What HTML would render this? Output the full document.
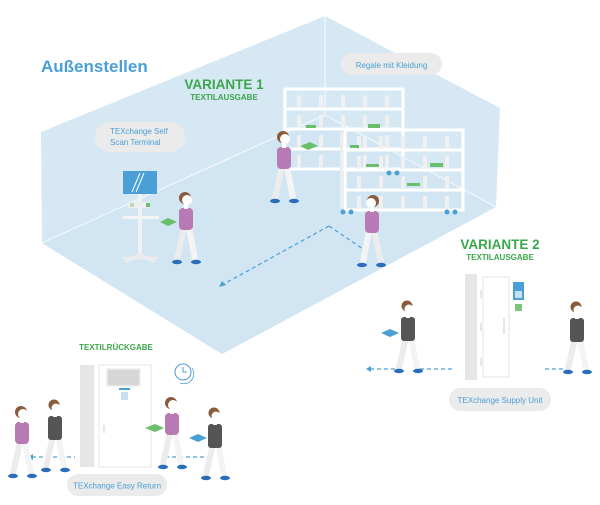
<!DOCTYPE html>
<html><head><meta charset="utf-8"><style>
html,body{margin:0;padding:0;background:#fff;width:600px;height:505px;overflow:hidden}
svg{display:block}
text{font-family:"Liberation Sans",sans-serif}
</style></head><body>
<svg width="600" height="505" viewBox="0 0 600 505" xmlns="http://www.w3.org/2000/svg">
<defs>
<g id="pw">
 <line x1="-2" y1="-34" x2="-9" y2="-3" stroke="#ececec" stroke-width="6" stroke-linecap="round"/>
 <line x1="3" y1="-34" x2="9" y2="-3" stroke="#f4f4f4" stroke-width="6" stroke-linecap="round"/>
 <ellipse cx="-9" cy="0" rx="5" ry="2.2" fill="#2a6db8"/>
 <ellipse cx="10" cy="0" rx="5" ry="2.2" fill="#2a6db8"/>
 <rect x="-7" y="-54" width="14" height="22" rx="4" fill="#b87ab4"/>
 <rect x="3" y="-52" width="4" height="14" rx="2" fill="#b87ab4"/>
 <circle cx="-1" cy="-64" r="6" fill="#8a5a3c"/>
 <circle cx="1" cy="-62" r="5" fill="#fff"/>
 <rect x="-2" y="-58" width="4" height="5" fill="#fff"/>
</g>
<g id="pm">
 <line x1="-2" y1="-34" x2="-9" y2="-3" stroke="#ececec" stroke-width="6" stroke-linecap="round"/>
 <line x1="3" y1="-34" x2="9" y2="-3" stroke="#f4f4f4" stroke-width="6" stroke-linecap="round"/>
 <ellipse cx="-9" cy="0" rx="5" ry="2.2" fill="#2a6db8"/>
 <ellipse cx="10" cy="0" rx="5" ry="2.2" fill="#2a6db8"/>
 <rect x="-7" y="-54" width="14" height="24" rx="3" fill="#555"/>
 <rect x="3" y="-52" width="4" height="14" rx="2" fill="#555"/>
 <circle cx="-1" cy="-65" r="5.5" fill="#8a5a3c"/>
 <circle cx="1" cy="-62" r="4.5" fill="#fff"/>
 <rect x="-2" y="-58" width="4" height="5" fill="#fff"/>
</g>
<g id="shelf">
 <rect x="0" y="0" width="118" height="80" fill="none" stroke="#fff" stroke-width="3"/>
 <line x1="0" y1="20" x2="118" y2="20" stroke="#fff" stroke-width="3"/>
 <line x1="0" y1="40" x2="118" y2="40" stroke="#fff" stroke-width="3"/>
 <line x1="0" y1="60" x2="118" y2="60" stroke="#fff" stroke-width="3"/>
 <g fill="#f0f0f0">
  <rect x="12" y="6" width="4" height="13"/><rect x="34" y="6" width="4" height="13"/><rect x="56" y="6" width="4" height="13"/><rect x="78" y="6" width="4" height="13"/><rect x="100" y="6" width="4" height="13"/>
  <rect x="12" y="26" width="4" height="13"/><rect x="34" y="26" width="4" height="13"/><rect x="56" y="26" width="4" height="13"/><rect x="78" y="26" width="4" height="13"/><rect x="100" y="26" width="4" height="13"/>
  <rect x="12" y="46" width="4" height="13"/><rect x="34" y="46" width="4" height="13"/><rect x="56" y="46" width="4" height="13"/><rect x="78" y="46" width="4" height="13"/><rect x="100" y="46" width="4" height="13"/>
  <rect x="12" y="66" width="4" height="13"/><rect x="34" y="66" width="4" height="13"/><rect x="56" y="66" width="4" height="13"/><rect x="78" y="66" width="4" height="13"/><rect x="100" y="66" width="4" height="13"/>
 </g>
</g>
</defs>

<!-- room hexagon -->
<polygon points="325,16 500,108 496,207 222,354 42,243 41,132" fill="#d6e8f4"/>
<polygon points="325,115 496,207 222,354 42,243" fill="#d2e5f2"/>
<g stroke="#f2f8fc" stroke-width="1.2" fill="none">
<line x1="325" y1="16" x2="325" y2="115"/>
<line x1="325" y1="115" x2="42" y2="243"/>
<line x1="325" y1="115" x2="496" y2="207"/>
</g>

<text x="41" y="72" font-size="17" fill="#4a9fd6" font-weight="bold">Außenstellen</text>
<text x="224" y="89" font-size="13.5" fill="#3aa84a" font-weight="bold" text-anchor="middle">VARIANTE 1</text>
<text x="224" y="100" font-size="8" fill="#3aa84a" font-weight="bold" text-anchor="middle">TEXTILAUSGABE</text>
<text x="500" y="249" font-size="13.5" fill="#3aa84a" font-weight="bold" text-anchor="middle">VARIANTE 2</text>
<text x="500" y="260" font-size="8" fill="#3aa84a" font-weight="bold" text-anchor="middle">TEXTILAUSGABE</text>
<text x="116" y="350" font-size="8" fill="#3aa84a" font-weight="bold" text-anchor="middle">TEXTILRÜCKGABE</text>

<!-- pills -->
<rect x="341" y="53" width="101" height="22" rx="11" fill="#ebebeb"/>
<text x="391.5" y="68" font-size="8" fill="#4a9fd6" text-anchor="middle">Regale mit Kleidung</text>
<rect x="95" y="122" width="90" height="30" rx="15" fill="#ebebeb"/>
<text x="110" y="134" font-size="8" fill="#4a9fd6">TEXchange Self</text>
<text x="110" y="145" font-size="8" fill="#4a9fd6">Scan Terminal</text>
<rect x="449" y="388" width="102" height="23" rx="11.5" fill="#ebebeb"/>
<text x="500" y="403" font-size="8" fill="#4a9fd6" text-anchor="middle">TEXchange Supply Unit</text>
<rect x="67" y="474" width="100" height="22" rx="11" fill="#ebebeb"/>
<text x="117" y="488.5" font-size="8" fill="#4a9fd6" text-anchor="middle">TEXchange Easy Return</text>

<!-- shelves -->
<rect x="283" y="92" width="3" height="76" fill="#eee"/>
<use href="#shelf" transform="translate(285,89)"/>
<rect x="306" y="125" width="10" height="3" fill="#6bbf6b"/>
<rect x="368" y="124" width="12" height="4" fill="#6bbf6b"/>
<rect x="340" y="132" width="3" height="76" fill="#eee"/>
<use href="#shelf" transform="translate(345,130)"/>
<rect x="350" y="145" width="9" height="3" fill="#6bbf6b"/>
<rect x="366" y="164" width="13" height="3" fill="#6bbf6b"/>
<rect x="430" y="163" width="13" height="4" fill="#6bbf6b"/>
<rect x="407" y="183" width="13" height="3" fill="#6bbf6b"/>
<g fill="#4a9fd6"><circle cx="343" cy="212" r="2.5"/><circle cx="351" cy="212" r="2.5"/><circle cx="447" cy="212" r="2.5"/><circle cx="455" cy="212" r="2.5"/><circle cx="389" cy="173" r="2.5"/><circle cx="397" cy="173" r="2.5"/></g>

<!-- terminal -->
<rect x="123" y="171" width="34" height="23" fill="#4a9fd6"/>
<line x1="132" y1="192" x2="140" y2="173" stroke="#fff" stroke-width="1"/>
<line x1="136" y1="192" x2="144" y2="173" stroke="#fff" stroke-width="1"/>
<rect x="138" y="194" width="4" height="60" fill="#f2f2f2"/>
<rect x="128" y="202" width="22" height="6" fill="#eee"/>
<rect x="130" y="203" width="4" height="4" fill="#b8dcb8"/><rect x="146" y="203" width="4" height="4" fill="#6bbf6b"/>
<rect x="123" y="216" width="36" height="3" fill="#f4f4f4"/>
<path d="M122,258 L158,258 M125,262 L140,254 L155,262" stroke="#ececec" stroke-width="3" fill="none"/>

<!-- dashed paths V1 -->
<g stroke="#4a9fd6" stroke-width="1.2" stroke-dasharray="4,3" fill="none">
<line x1="329" y1="226" x2="222" y2="285"/>
<line x1="329" y1="226" x2="363" y2="249"/>
</g>
<polygon points="219,287 222,281 226,285" fill="#4a9fd6"/>

<!-- V1 people -->
<use href="#pw" transform="translate(284,201) scale(1)"/>
<polygon points="300,146 310,142 318,146 308,150" fill="#6bbf6b"/>
<use href="#pw" transform="translate(186,262) scale(1)"/>
<polygon points="160,222 168,218 177,222 168,226" fill="#6bbf6b"/>
<use href="#pw" transform="translate(372,265) scale(-1,1)"/>

<!-- supply unit -->
<rect x="465" y="274" width="12" height="106" fill="#e6e6e6"/>
<rect x="483" y="277" width="26" height="100" fill="#fff" stroke="#e6e6e6" stroke-width="1"/>
<rect x="503" y="318" width="2" height="16" fill="#e6e6e6"/>
<rect x="480" y="290" width="2" height="8" fill="#e6e6e6"/><rect x="480" y="323" width="2" height="8" fill="#e6e6e6"/><rect x="480" y="358" width="2" height="8" fill="#e6e6e6"/>
<rect x="513" y="282" width="11" height="18" fill="#4a9fd6"/>
<rect x="515" y="291" width="7" height="7" fill="#c8dff2"/>
<rect x="515" y="304" width="7" height="7" fill="#7cc47c"/>
<g stroke="#4a9fd6" stroke-width="1.2" stroke-dasharray="4,3" fill="none">
<line x1="370" y1="369" x2="395" y2="369"/><line x1="420" y1="369" x2="452" y2="369"/>
<line x1="545" y1="369" x2="572" y2="369"/>
</g>
<polygon points="366,369 371,366 371,372" fill="#4a9fd6"/>
<use href="#pm" transform="translate(408,371)"/>
<polygon points="381,333 390,329 399,333 390,337" fill="#4a9fd6"/>
<use href="#pm" transform="translate(577,372)"/>

<!-- easy return -->
<rect x="80" y="365" width="14" height="102" fill="#e6e6e6"/>
<rect x="99" y="365" width="52" height="102" fill="#fff" stroke="#e6e6e6" stroke-width="1"/>
<rect x="107" y="369" width="33" height="17" fill="#d6d6d6" stroke="#eee" stroke-width="1.5"/>
<rect x="119" y="388" width="11" height="2" fill="#4a9fd6"/>
<rect x="121" y="392" width="7" height="8" fill="#c8dff2"/>
<rect x="103" y="425" width="2" height="8" fill="#e6e6e6"/>
<circle cx="183" cy="372" r="8" fill="#fff" stroke="#4a9fd6" stroke-width="1"/>
<path d="M183,367 L183,372 L187,372" stroke="#4a9fd6" stroke-width="1" fill="none"/>
<path d="M192,368 A10,10 0 0 1 180,383" stroke="#4a9fd6" stroke-width="0.8" fill="none"/>
<g stroke="#4a9fd6" stroke-width="1.2" stroke-dasharray="4,3" fill="none">
<line x1="32" y1="457" x2="75" y2="457"/>
<line x1="165" y1="457" x2="212" y2="457"/>
</g>
<polygon points="28,457 33,454 33,460" fill="#4a9fd6"/>
<use href="#pw" transform="translate(22,476)"/>
<use href="#pm" transform="translate(55,470)"/>
<use href="#pw" transform="translate(172,467)"/>
<polygon points="145,428 155,424 164,428 155,432" fill="#6bbf6b"/>
<use href="#pm" transform="translate(215,478)"/>
<polygon points="189,438 198,434 207,438 198,442" fill="#4a9fd6"/>
</svg>
</body></html>
